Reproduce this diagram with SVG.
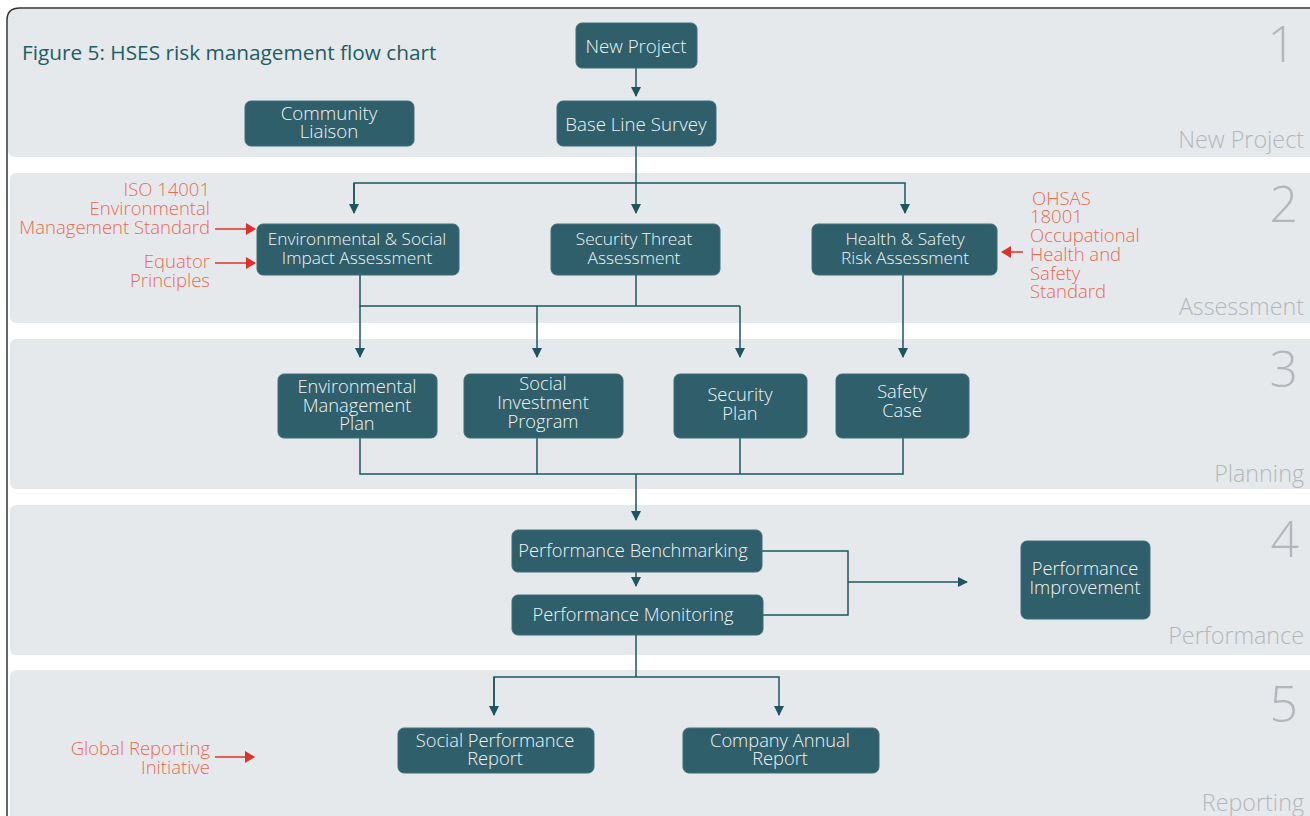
<svg xmlns="http://www.w3.org/2000/svg" width="1310" height="816" viewBox="0 0 1310 816">
<style>
.band{fill:#e6e9ec}
.node rect{fill:#2e5f6a;stroke:#3d6f79;stroke-width:1}
.node text{fill:#f2f5f5;font-family:"Open Sans",Lato,sans-serif;font-weight:300;font-size:18.3px;text-anchor:middle}
.node.big text{font-size:18.7px}
.node.mid text{font-size:17.3px}
.red{fill:#ea6a50;font-family:"Open Sans",Lato,sans-serif;font-weight:300;font-size:18.5px}
.num{fill:#b3b7bb;font-family:"Open Sans",Lato,sans-serif;font-weight:300;font-size:50px;text-anchor:end}
.sec{fill:#b3b7bb;font-family:"Open Sans",Lato,sans-serif;font-weight:300;font-size:23.3px;text-anchor:end}
.con{fill:none;stroke:#1d5660;stroke-width:1.5}
.rcon{fill:none;stroke:#e0302a;stroke-width:1.5}
</style>
<defs>
<marker id="ah" markerWidth="10" markerHeight="10" refX="9" refY="5" orient="auto" markerUnits="userSpaceOnUse" viewBox="0 0 10 10"><path d="M0,0 L10,5 L0,10 z" fill="#1d5660"/></marker>
<marker id="rh" markerWidth="10" markerHeight="12" refX="9" refY="6" orient="auto" markerUnits="userSpaceOnUse" viewBox="0 0 10 12"><path d="M0,0 L10,6 L0,12 z" fill="#e0302a"/></marker>
</defs>
<rect width="1310" height="816" fill="#ffffff"/>
<g id="bands">
<rect class="band" x="8" y="9" width="1310" height="148" rx="7"/>
<rect class="band" x="10" y="173" width="1310" height="150" rx="6"/>
<rect class="band" x="10" y="339" width="1310" height="150" rx="6"/>
<rect class="band" x="10" y="505" width="1310" height="150" rx="6"/>
<rect class="band" x="10" y="670" width="1310" height="160" rx="6"/>
<path d="M7,816 L7,20 Q7,8 20,8 L1310,8" fill="none" stroke="#333" stroke-width="1.5"/>
</g>
<g id="section-labels">
<text class="num" x="1296" y="62">1</text>
<text class="num" x="1298" y="222">2</text>
<text class="num" x="1298" y="387">3</text>
<text class="num" x="1299" y="557">4</text>
<text class="num" x="1298" y="722">5</text>
<text class="sec" x="1304" y="148">New Project</text>
<text class="sec" x="1304" y="315">Assessment</text>
<text class="sec" x="1304" y="482">Planning</text>
<text class="sec" x="1304" y="644">Performance</text>
<text class="sec" x="1304" y="811">Reporting</text>
</g>
<text id="title" x="22" y="60" fill="#1b5e63" font-family="'Open Sans',Lato,sans-serif" font-size="20.8">Figure 5: HSES risk management flow chart</text>
<g id="connectors">
<line class="con" x1="636" y1="68" x2="636" y2="96" marker-end="url(#ah)"/>
<path class="con" d="M636,146 V183"/>
<path class="con" d="M354,213 V183 H905 V213" marker-end="url(#ah)"/>
<line class="con" x1="354" y1="183" x2="354" y2="213" marker-end="url(#ah)"/>
<line class="con" x1="636" y1="183" x2="636" y2="213" marker-end="url(#ah)"/>
<path class="con" d="M360,275 V306 H740"/>
<path class="con" d="M636,275 V306"/>
<line class="con" x1="360" y1="306" x2="360" y2="357" marker-end="url(#ah)"/>
<line class="con" x1="537" y1="306" x2="537" y2="357" marker-end="url(#ah)"/>
<line class="con" x1="740" y1="306" x2="740" y2="357" marker-end="url(#ah)"/>
<line class="con" x1="903" y1="275" x2="903" y2="357" marker-end="url(#ah)"/>
<path class="con" d="M360,438 V474 H903 V438"/>
<path class="con" d="M537,438 V474"/>
<path class="con" d="M740,438 V474"/>
<line class="con" x1="636" y1="474" x2="636" y2="520" marker-end="url(#ah)"/>
<line class="con" x1="636" y1="572" x2="636" y2="586" marker-end="url(#ah)"/>
<path class="con" d="M762,551 H848 V615 H763"/>
<line class="con" x1="848" y1="582" x2="967" y2="582" marker-end="url(#ah)"/>
<path class="con" d="M636,635 V677"/>
<path class="con" d="M494,715 V677 H779 V715" marker-end="url(#ah)"/>
<line class="con" x1="494" y1="677" x2="494" y2="715" marker-end="url(#ah)"/>
<line class="rcon" x1="215" y1="229" x2="255" y2="229" marker-end="url(#rh)"/>
<line class="rcon" x1="215" y1="263" x2="255" y2="263" marker-end="url(#rh)"/>
<line class="rcon" x1="1023" y1="252" x2="1002" y2="252" marker-end="url(#rh)"/>
<line class="rcon" x1="215" y1="757" x2="254" y2="757" marker-end="url(#rh)"/>
</g>
<g id="standards">
<text class="red" text-anchor="end" x="210" y="196">ISO 14001</text>
<text class="red" text-anchor="end" x="210" y="215">Environmental</text>
<text class="red" text-anchor="end" x="210" y="234">Management Standard</text>
<text class="red" text-anchor="end" x="210" y="268">Equator</text>
<text class="red" text-anchor="end" x="210" y="287">Principles</text>
<text class="red" x="1032" y="205">OHSAS</text>
<text class="red" x="1030" y="223">18001</text>
<text class="red" x="1030" y="242">Occupational</text>
<text class="red" x="1030" y="261">Health and</text>
<text class="red" x="1030" y="280">Safety</text>
<text class="red" x="1030" y="298">Standard</text>
<text class="red" text-anchor="end" x="210" y="755">Global Reporting</text>
<text class="red" text-anchor="end" x="210" y="774">Initiative</text>
</g>
<g id="n-new-project" class="node big"><rect x="576" y="23" width="121" height="45" rx="6"/><text x="636" y="53">New Project</text></g>
<g id="n-baseline" class="node big"><rect x="557" y="101" width="159" height="45" rx="6"/><text x="636" y="131">Base Line Survey</text></g>
<g id="n-community" class="node big"><rect x="245" y="101" width="169" height="45" rx="6"/><text x="329" y="120">Community</text><text x="329" y="138">Liaison</text></g>
<g id="n-esia" class="node mid"><rect x="257" y="224" width="202" height="51" rx="6"/><text x="357" y="245">Environmental &amp; Social</text><text x="357" y="264">Impact Assessment</text></g>
<g id="n-sta" class="node mid"><rect x="551" y="224" width="169" height="51" rx="6"/><text x="634" y="245">Security Threat</text><text x="634" y="264">Assessment</text></g>
<g id="n-hsra" class="node mid"><rect x="812" y="224" width="185" height="51" rx="6"/><text x="905" y="245">Health &amp; Safety</text><text x="905" y="264">Risk Assessment</text></g>
<g id="n-emp" class="node"><rect x="278" y="374" width="159" height="64" rx="6"/><text x="357" y="393">Environmental</text><text x="357" y="412">Management</text><text x="357" y="430">Plan</text></g>
<g id="n-sip" class="node"><rect x="464" y="374" width="159" height="64" rx="6"/><text x="543" y="390">Social</text><text x="543" y="409">Investment</text><text x="543" y="428">Program</text></g>
<g id="n-sp" class="node"><rect x="674" y="374" width="133" height="64" rx="6"/><text x="740" y="401">Security</text><text x="740" y="420">Plan</text></g>
<g id="n-sc" class="node"><rect x="836" y="374" width="133" height="64" rx="6"/><text x="902" y="398">Safety</text><text x="902" y="417">Case</text></g>
<g id="n-bench" class="node"><rect x="512" y="530" width="250" height="42" rx="6"/><text x="633" y="557">Performance Benchmarking</text></g>
<g id="n-monitor" class="node"><rect x="512" y="595" width="251" height="40" rx="6"/><text x="633" y="621">Performance Monitoring</text></g>
<g id="n-improve" class="node"><rect x="1021" y="541" width="129" height="78" rx="6"/><text x="1085" y="575">Performance</text><text x="1085" y="594">Improvement</text></g>
<g id="n-spr" class="node"><rect x="398" y="728" width="196" height="45" rx="6"/><text x="495" y="747">Social Performance</text><text x="495" y="765">Report</text></g>
<g id="n-car" class="node"><rect x="683" y="728" width="196" height="45" rx="6"/><text x="780" y="747">Company Annual</text><text x="780" y="765">Report</text></g>
</svg>
